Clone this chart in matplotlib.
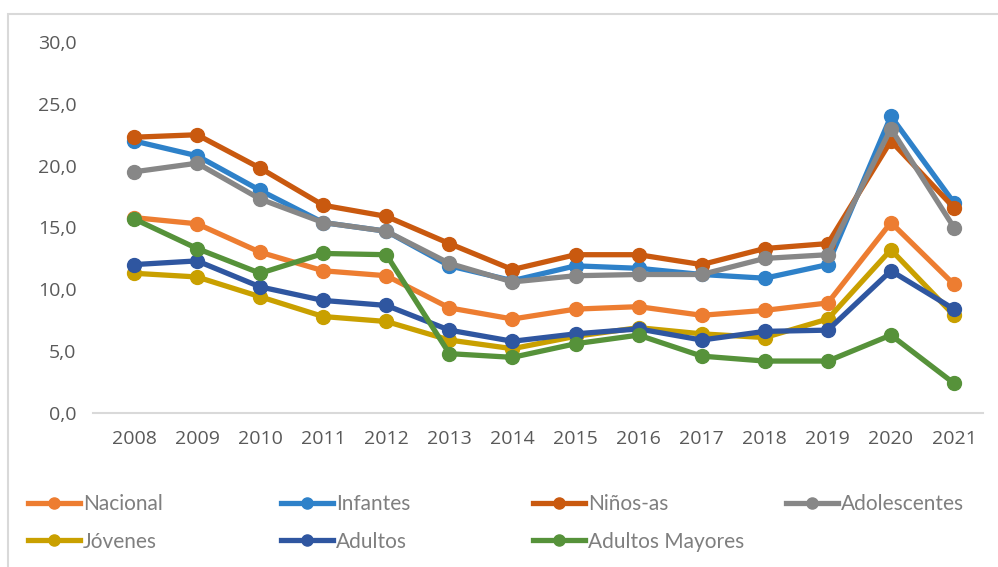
import matplotlib.pyplot as plt
from matplotlib.lines import Line2D
from matplotlib.patches import Rectangle

years = list(range(2008, 2022))

nacional = [15.8, 15.3, 13.0, 11.5, 11.1, 8.5, 7.6, 8.4, 8.6, 7.9, 8.3, 8.9, 15.4, 10.4]
infantes = [22.0, 20.8, 18.0, 15.4, 14.7, 11.9, 10.7, 11.9, 11.7, 11.2, 10.9, 12.0, 24.0, 17.0]
ninos = [22.3, 22.5, 19.8, 16.8, 15.9, 13.7, 11.6, 12.8, 12.8, 12.0, 13.3, 13.7, 22.0, 16.6]
adolescentes = [19.5, 20.2, 17.3, 15.4, 14.7, 12.1, 10.6, 11.1, 11.2, 11.2, 12.5, 12.8, 23.0, 15.0]
jovenes = [11.3, 11.0, 9.4, 7.8, 7.4, 5.9, 5.2, 6.2, 6.9, 6.4, 6.1, 7.6, 13.2, 7.9]
adultos = [12.0, 12.3, 10.2, 9.1, 8.7, 6.7, 5.8, 6.4, 6.8, 5.9, 6.6, 6.7, 11.5, 8.4]
adultos_mayores = [15.7, 13.3, 11.3, 12.9, 12.8, 4.8, 4.5, 5.6, 6.3, 4.6, 4.2, 4.2, 6.3, 2.4]

series = [
    ("Nacional", nacional, "#ED7D31"),
    ("Infantes", infantes, "#2E81C9"),
    ("Niños-as", ninos, "#C9590F"),
    ("Adolescentes", adolescentes, "#878787"),
    ("Jóvenes", jovenes, "#C9A000"),
    ("Adultos", adultos, "#2F56A0"),
    ("Adultos Mayores", adultos_mayores, "#56923A"),
]

W, H = 998, 567
fig = plt.figure(figsize=(W / 100, H / 100), dpi=100)
ax = fig.add_axes([93 / W, 1 - 413 / H, (983 - 93) / W, (413 - 42) / H])

for name, vals, color in series:
    ax.plot(years, vals, color=color, lw=3.8, marker="o", ms=10, solid_capstyle="round", label=name)

ax.set_ylim(0, 30)
ax.set_xlim(2007.35, 2021.46)
ax.set_xticks(years)
ax.set_xticklabels([str(y) for y in years])
ax.set_yticks(range(0, 31, 5))
ax.set_yticklabels([f"{v},0" for v in range(0, 31, 5)])

for side in ["top", "right", "left"]:
    ax.spines[side].set_visible(False)
ax.spines["bottom"].set_color("#D9D9D9")
ax.spines["bottom"].set_linewidth(1.5)
ax.tick_params(length=0, labelsize=14, labelcolor="#595959", pad=12)
for lab in ax.get_xticklabels() + ax.get_yticklabels():
    lab.set_fontfamily("Open Sans")

# chart border (only left and top edges fall inside the picture)
fig.patches.append(Rectangle((8 / W, -0.05), 1.2, 1.05 - 14 / H, transform=fig.transFigure,
                             fill=False, edgecolor="#D9D9D9", lw=1.5))

# legend: 4 columns at fixed positions
col_x = [28, 281, 533, 786]
columns = [["Nacional", "Jóvenes"], ["Infantes", "Adultos"], ["Niños-as", "Adultos Mayores"], ["Adolescentes"]]
lookup = {name: color for name, _, color in series}
for x, names in zip(col_x, columns):
    handles = [Line2D([], [], color=lookup[n], lw=3.8, marker="o", ms=8) for n in names]
    leg = fig.legend(handles, names, loc="upper left", bbox_to_anchor=(x / W, 1 - 494 / H),
                     frameon=False, handlelength=2.5, handletextpad=0.15, labelspacing=0.85,
                     borderpad=0, borderaxespad=0,
                     prop={"family": "Lato", "size": 15})
    for t in leg.get_texts():
        t.set_color("#7F7F7F")

fig.savefig("out.png", dpi=100)
